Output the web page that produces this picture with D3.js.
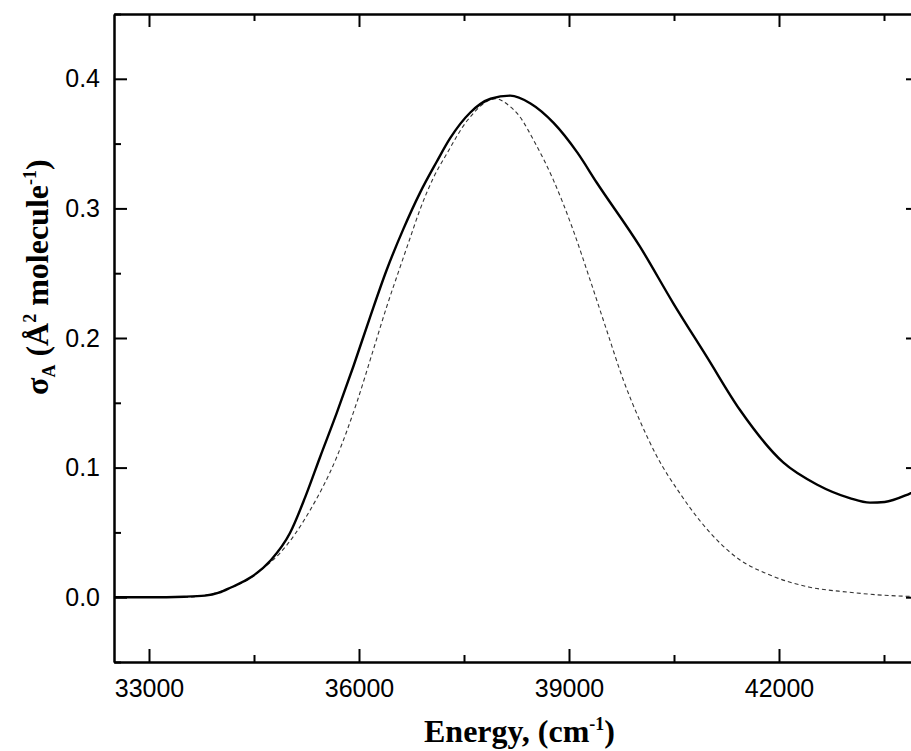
<!DOCTYPE html>
<html>
<head>
<meta charset="utf-8">
<script src="https://cdn.jsdelivr.net/npm/d3@7"></script>
<style>
  html, body { margin: 0; padding: 0; background: #fff; }
  svg { display: block; }
</style>
</head>
<body>
<svg id="chart" width="911" height="751"></svg>
<script>
// ---- data ----
const solidEnergy = [32500, 33000, 33500, 33800, 34000, 34170, 34460, 34740, 35014, 35230, 35443, 35681, 35919, 36157, 36395, 36633, 36871, 37110, 37300, 37590, 37880, 38160, 38450, 38780, 39120, 39395, 40014, 40490, 40967, 41443, 42060, 42540, 43010, 43300, 43510, 43870, 44000];
const solidSigma  = [0, 0, 0.0004, 0.0012, 0.0035, 0.0075, 0.0155, 0.0285, 0.0495, 0.077, 0.108, 0.142, 0.178, 0.216, 0.2525, 0.284, 0.312, 0.336, 0.354, 0.374, 0.3846, 0.387, 0.381, 0.366, 0.343, 0.320, 0.2705, 0.2268, 0.1856, 0.1444, 0.104, 0.087, 0.0765, 0.073, 0.0735, 0.080, 0.083];

const dashedEnergy = [32500, 33500, 33800, 34000, 34200, 34400, 34600, 34871, 35300, 35681, 35967, 36205, 36395, 36586, 36729, 36871, 37062, 37252, 37550, 37950, 38150, 38280, 38520, 38776, 39061, 39300, 39538, 39776, 40014, 40252, 40586, 40871, 41443, 41830, 42440, 42970, 43500, 44000];
const dashedSigma  = [0, 0, 0.0015, 0.004, 0.008, 0.013, 0.021, 0.034, 0.067, 0.108, 0.150, 0.191, 0.224, 0.2545, 0.277, 0.299, 0.3235, 0.342, 0.368, 0.3846, 0.379, 0.372, 0.350, 0.322, 0.283, 0.245, 0.206, 0.1676, 0.136, 0.109, 0.080, 0.059, 0.0287, 0.018, 0.0077, 0.004, 0.0015, 0.0005];

const xTicks = [33000, 36000, 39000, 42000];
const xMinorTicks = [34500, 37500, 40500, 43500];
const yTicks = [0.0, 0.1, 0.2, 0.3, 0.4];
const yMinorTicks = [-0.05, 0.05, 0.15, 0.25, 0.35, 0.45];

// ---- layout ----
const svg = d3.select("#chart");
const pLeft = 114, pRight = 919, pTop = 14, pBottom = 662;

const x = d3.scaleLinear().domain([32500, 44000]).range([pLeft, pRight]);
const y = d3.scaleLinear().domain([-0.05, 0.45]).range([pBottom, pTop]);

svg.append("defs").append("clipPath").attr("id", "plotclip")
  .append("rect").attr("x", pLeft).attr("y", pTop)
  .attr("width", pRight - pLeft).attr("height", pBottom - pTop);

const line = d3.line().curve(d3.curveMonotoneX)
  .x(d => x(d[0])).y(d => y(d[1]));

const solid = solidEnergy.map((e, i) => [e, solidSigma[i]]);
const dashed = dashedEnergy.map((e, i) => [e, dashedSigma[i]]);

const plot = svg.append("g").attr("clip-path", "url(#plotclip)");
plot.append("path").datum(dashed)
  .attr("d", line)
  .attr("fill", "none")
  .attr("stroke", "#333")
  .attr("stroke-width", 1.1)
  .attr("stroke-dasharray", "4,3");
plot.append("path").datum(solid)
  .attr("d", line)
  .attr("fill", "none")
  .attr("stroke", "#000")
  .attr("stroke-width", 2.4)
  .attr("stroke-linejoin", "round");

// ---- axes ----
const tickFont = "'Liberation Sans', Arial, sans-serif";
function styleAxis(g) {
  g.select(".domain").attr("stroke", "#000").attr("stroke-width", 2);
  g.selectAll(".tick line").attr("stroke", "#000").attr("stroke-width", 2);
  g.selectAll(".tick text").attr("fill", "#000")
    .style("font-family", tickFont).style("font-size", "25px");
}

// bottom
svg.append("g").attr("transform", `translate(0,${pBottom})`)
  .call(d3.axisBottom(x).tickValues(xTicks).tickFormat(d3.format("d"))
    .tickSizeInner(-13).tickSizeOuter(0).tickPadding(17))
  .call(styleAxis);
svg.append("g").attr("transform", `translate(0,${pBottom})`)
  .call(d3.axisBottom(x).tickValues(xMinorTicks).tickFormat("")
    .tickSizeInner(-7).tickSizeOuter(0))
  .call(styleAxis);
// top
svg.append("g").attr("transform", `translate(0,${pTop})`)
  .call(d3.axisTop(x).tickValues(xTicks).tickFormat("")
    .tickSizeInner(-13).tickSizeOuter(0))
  .call(styleAxis);
svg.append("g").attr("transform", `translate(0,${pTop})`)
  .call(d3.axisTop(x).tickValues(xMinorTicks).tickFormat("")
    .tickSizeInner(-7).tickSizeOuter(0))
  .call(styleAxis);
// left
svg.append("g").attr("transform", `translate(${pLeft},0)`)
  .call(d3.axisLeft(y).tickValues(yTicks).tickFormat(d3.format(".1f"))
    .tickSizeInner(-13).tickSizeOuter(0).tickPadding(14))
  .call(styleAxis);
svg.append("g").attr("transform", `translate(${pLeft},0)`)
  .call(d3.axisLeft(y).tickValues(yMinorTicks).tickFormat("")
    .tickSizeInner(-7).tickSizeOuter(0))
  .call(styleAxis);
// right
svg.append("g").attr("transform", `translate(${pRight},0)`)
  .call(d3.axisRight(y).tickValues(yTicks).tickFormat("")
    .tickSizeInner(-13).tickSizeOuter(0))
  .call(styleAxis);
svg.append("g").attr("transform", `translate(${pRight},0)`)
  .call(d3.axisRight(y).tickValues(yMinorTicks).tickFormat("")
    .tickSizeInner(-7).tickSizeOuter(0))
  .call(styleAxis);

// ---- titles ----
const titleFont = "'Liberation Serif', 'Times New Roman', serif";
const xt = svg.append("text")
  .attr("x", (pLeft + pRight) / 2 + 3).attr("y", 742)
  .attr("text-anchor", "middle")
  .style("font-family", titleFont).style("font-size", "32px").style("font-weight", "bold");
xt.append("tspan").text("Energy, (cm");
xt.append("tspan").attr("dy", -12).style("font-size", "18px").text("-1");
xt.append("tspan").attr("dy", 12).text(")");

const yt = svg.append("text")
  .attr("transform", "translate(48,395) rotate(-90)")
  .attr("text-anchor", "start")
  .style("font-family", titleFont).style("font-size", "32px").style("font-weight", "bold");
yt.append("tspan").text("σ");
yt.append("tspan").attr("dy", 7).style("font-size", "18px").text("A");
yt.append("tspan").attr("dy", -7).text(" (Å");
yt.append("tspan").attr("dy", -12).style("font-size", "18px").text("2");
yt.append("tspan").attr("dy", 12).text(" molecule");
yt.append("tspan").attr("dy", -12).style("font-size", "18px").text("-1");
yt.append("tspan").attr("dy", 12).text(")");
</script>
</body>
</html>
